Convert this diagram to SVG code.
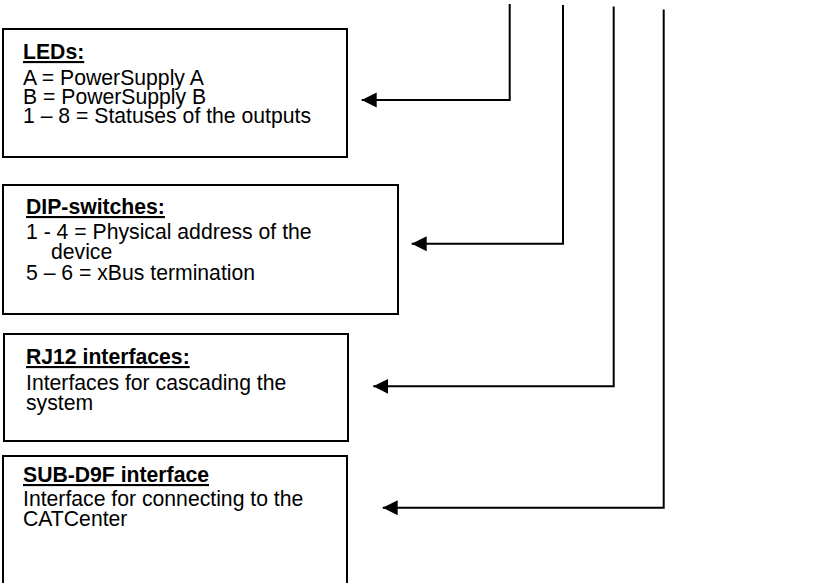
<svg xmlns="http://www.w3.org/2000/svg" width="821" height="583" viewBox="0 0 821 583">
<style>
.box{fill:#fff;stroke:#000;stroke-width:2}
.t{font-family:"Liberation Sans",Arial,sans-serif;font-size:21.2px;fill:#000}
.h{font-weight:bold;text-decoration:underline}
.c{fill:none;stroke:#000;stroke-width:2}
</style>
<defs>
<marker id="ah" markerUnits="userSpaceOnUse" markerWidth="16" markerHeight="16" viewBox="0 0 16 16" refX="15" refY="8" orient="auto">
<path d="M0,0.5 L15,8 L0,15.5 Z" fill="#000"/>
</marker>
</defs>
<rect width="821" height="583" fill="#fff"/>
<g id="leds">
<rect class="box" x="3" y="29" width="344" height="128"/>
<text class="t h" x="23" y="59">LEDs:</text>
<text class="t" x="23" y="85">A = PowerSupply A</text>
<text class="t" x="23" y="104">B = PowerSupply B</text>
<text class="t" x="23" y="123">1 – 8 = Statuses of the outputs</text>
</g>
<g id="dip">
<rect class="box" x="3" y="185" width="395" height="129"/>
<text class="t h" x="26" y="214">DIP-switches:</text>
<text class="t" x="26" y="239">1 - 4 = Physical address of the</text>
<text class="t" x="51" y="259">device</text>
<text class="t" x="26" y="280">5 – 6 = xBus termination</text>
</g>
<g id="rj12">
<rect class="box" x="4" y="334" width="344" height="107"/>
<text class="t h" x="26" y="364">RJ12 interfaces:</text>
<text class="t" x="26" y="390">Interfaces for cascading the</text>
<text class="t" x="26" y="410">system</text>
</g>
<g id="subd9f">
<rect class="box" x="3" y="456" width="344" height="140"/>
<text class="t h" x="23" y="482">SUB-D9F interface</text>
<text class="t" x="23" y="506">Interface for connecting to the</text>
<text class="t" x="23" y="526">CATCenter</text>
</g>
<g id="connectors">
<path class="c" d="M509.7,4 V100 H361.7" marker-end="url(#ah)"/>
<path class="c" d="M563,5 V243.7 H411.7" marker-end="url(#ah)"/>
<path class="c" d="M613.7,6.5 V386.3 H373.3" marker-end="url(#ah)"/>
<path class="c" d="M663.7,9.5 V507.7 H382.7" marker-end="url(#ah)"/>
</g>
</svg>
